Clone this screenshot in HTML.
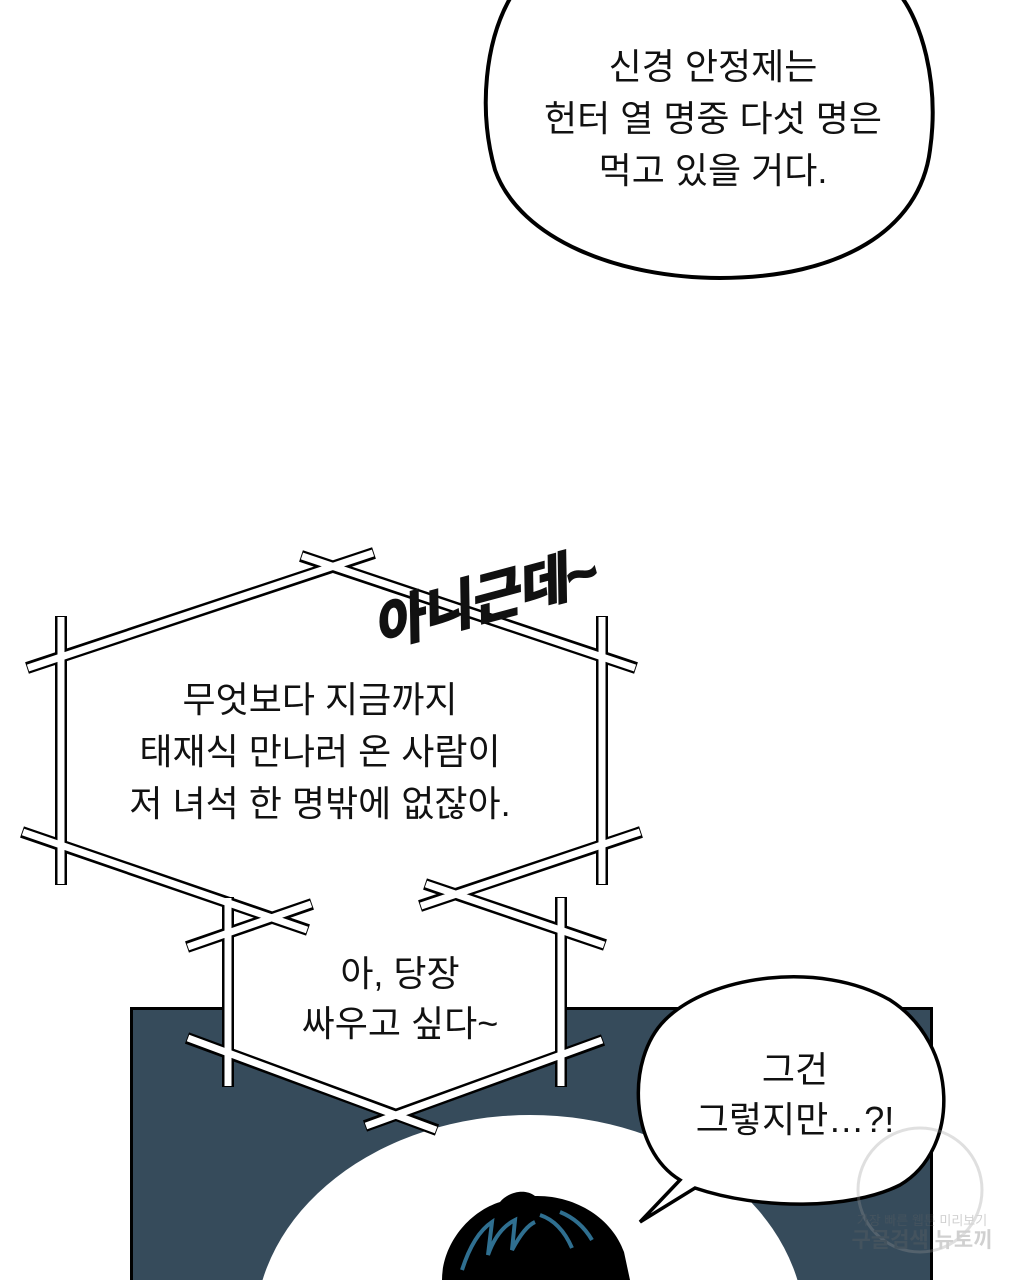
<!DOCTYPE html>
<html><head><meta charset="utf-8">
<style>
html,body{margin:0;padding:0;background:#fff;overflow:hidden;width:1024px;height:1280px;}
svg{display:block;}
text{font-family:"Liberation Sans","Noto Sans CJK KR",sans-serif;fill:#111;font-size:36px;text-anchor:middle;}
</style></head><body>
<svg width="1024" height="1280" viewBox="0 0 1024 1280" xmlns="http://www.w3.org/2000/svg">
<rect width="1024" height="1280" fill="#fff"/>
<!-- top bubble -->
<path d="M512,-5 C485,40 478,110 495,170 C520,240 620,278 720,278 C840,278 920,230 930,150 C940,80 920,20 900,-5 Z" fill="#fff" stroke="#000" stroke-width="4"/>
<text x="713" y="79">신경 안정제는</text>
<text x="713" y="131">헌터 열 명중 다섯 명은</text>
<text x="713" y="183">먹고 있을 거다.</text>

<!-- panel -->
<rect x="131.5" y="1008.5" width="800" height="280" fill="#364b5b" stroke="#000" stroke-width="3"/>
<ellipse cx="530" cy="1330" rx="275" ry="215" fill="#fff"/>
<!-- hair -->
<path d="M442,1280 C442,1245 468,1212 500,1202 C508,1192 525,1188 535,1196 C575,1195 612,1218 624,1252 L630,1280 Z" fill="#000"/>
<path d="M462,1270 C470,1245 480,1230 492,1222 L488,1255 C495,1235 505,1225 515,1220 L512,1250 C520,1235 528,1225 535,1222" fill="none" stroke="#2f6f90" stroke-width="4"/>
<path d="M540,1215 C555,1220 565,1232 572,1248 M560,1212 C575,1218 585,1228 592,1240" fill="none" stroke="#2f6f90" stroke-width="4"/>
<!-- white fill for lower hex inside panel -->
<polygon points="228,1000 228,1055 400,1120 561,1055 561,1000" fill="#fff"/>

<!-- right speech bubble -->
<path d="M680,1180 C630,1150 625,1060 665,1020 C710,975 820,960 890,1000 C960,1045 960,1150 900,1185 C850,1210 760,1210 695,1188 L640,1222 Z" fill="#fff" stroke="#000" stroke-width="3.5" stroke-linejoin="miter"/>
<text x="795" y="1082">그건</text>
<text x="795" y="1132">그렇지만…?!</text>

<!-- hexagon frame lines -->
<g stroke-linecap="butt">
<g stroke="#000" stroke-width="12">
<line x1="27" y1="668" x2="374" y2="553"/>
<line x1="301" y1="556" x2="636" y2="668"/>
<line x1="61" y1="616" x2="61" y2="885"/>
<line x1="602" y1="616" x2="602" y2="885"/>
<line x1="22" y1="832" x2="308" y2="930"/>
<line x1="420" y1="906" x2="641" y2="832"/>
<line x1="187" y1="947" x2="312" y2="904"/>
<line x1="425" y1="884" x2="605" y2="945"/>
<line x1="228" y1="897" x2="228" y2="1087"/>
<line x1="561" y1="897" x2="561" y2="1087"/>
<line x1="187" y1="1038" x2="437" y2="1130"/>
<line x1="365" y1="1126" x2="603" y2="1040"/>
</g>
<g stroke="#fff" stroke-width="7">
<line x1="28" y1="668" x2="373" y2="553"/>
<line x1="302" y1="556" x2="635" y2="668"/>
<line x1="61" y1="617" x2="61" y2="884"/>
<line x1="602" y1="617" x2="602" y2="884"/>
<line x1="23" y1="832" x2="307" y2="930"/>
<line x1="421" y1="906" x2="640" y2="832"/>
<line x1="188" y1="947" x2="311" y2="904"/>
<line x1="426" y1="884" x2="604" y2="945"/>
<line x1="228" y1="898" x2="228" y2="1086"/>
<line x1="561" y1="898" x2="561" y2="1086"/>
<line x1="188" y1="1038" x2="436" y2="1130"/>
<line x1="366" y1="1126" x2="602" y2="1040"/>
</g>
</g>
<text x="320" y="712">무엇보다 지금까지</text>
<text x="320" y="764">태재식 만나러 온 사람이</text>
<text x="320" y="816">저 녀석 한 명밖에 없잖아.</text>
<text x="400" y="986">아, 당장</text>
<text x="400" y="1036">싸우고 싶다~</text>

<!-- handwritten sfx -->
<text x="485" y="618" transform="rotate(-15 485 600)" style="font-size:54px;font-weight:bold;fill:#111;font-style:italic;stroke:#111;stroke-width:2">아니근데~</text>

<!-- watermark -->
<g opacity="0.3">
<circle cx="920" cy="1190" r="62" fill="none" stroke="#999" stroke-width="3"/>
<text x="922" y="1225" style="font-size:13px;fill:#666">가장 빠른 웹툰 미리보기</text>
<text x="922" y="1247" style="font-size:21px;fill:#666;font-weight:bold">구글검색 뉴토끼</text>
</g>
</svg>
</body></html>
